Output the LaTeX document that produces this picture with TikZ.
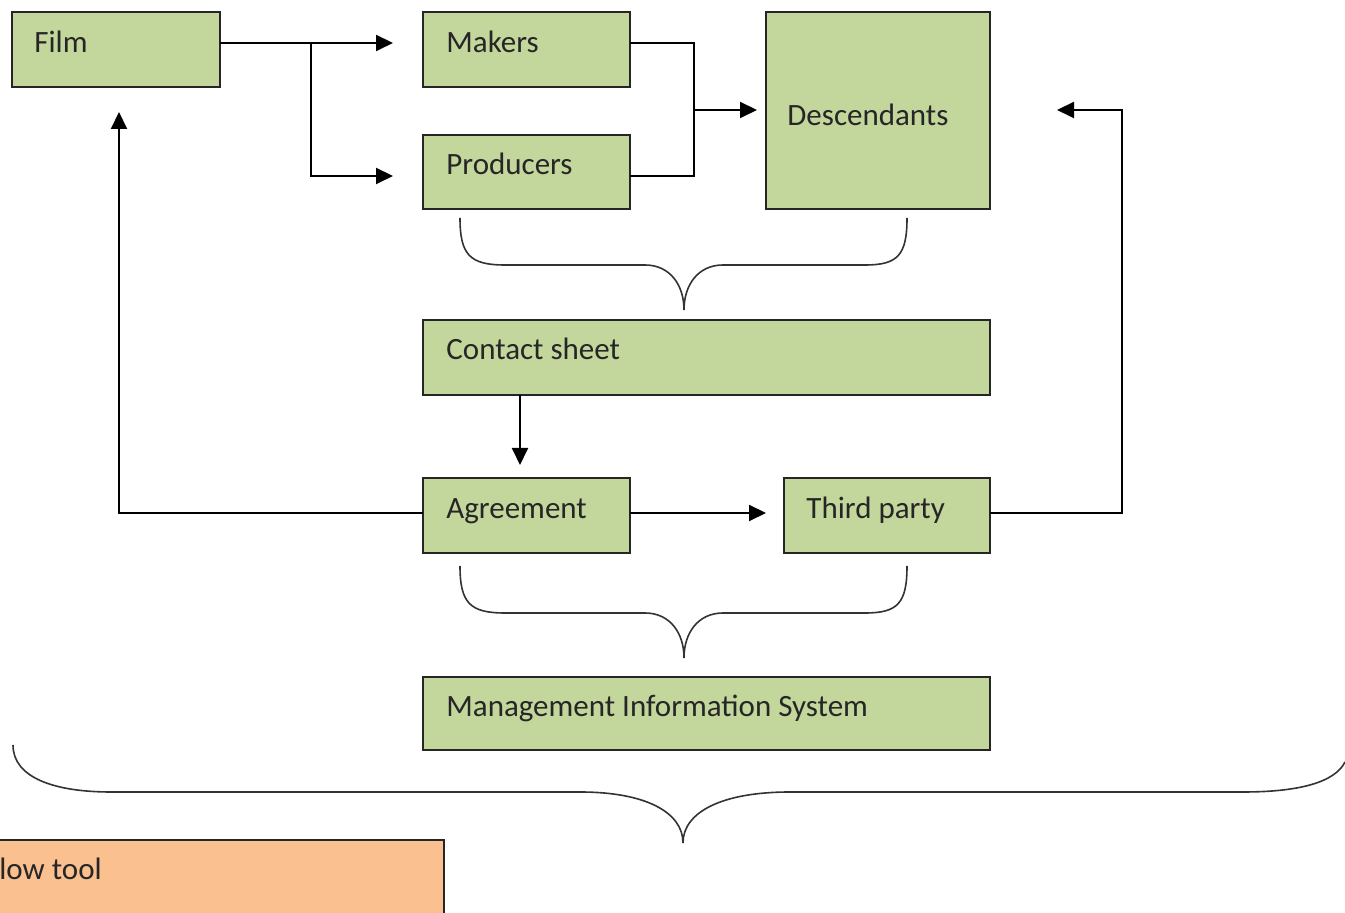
\documentclass[tikz,border=0pt]{standalone}
\usepackage{fontspec}
\setmainfont{Carlito}
\usetikzlibrary{arrows.meta,calc}
\definecolor{boxgreen}{HTML}{C3D69B}
\definecolor{boxorange}{HTML}{FAC090}
\begin{document}
\begin{tikzpicture}[x=0.5pt,y=-0.5pt,
  gbox/.style={draw=black!85,fill=boxgreen,line width=0.8pt,inner sep=0pt,outer sep=0pt},
  obox/.style={draw=black!85,fill=boxorange,line width=0.8pt,inner sep=0pt,outer sep=0pt},
  lbl/.style={anchor=base west,inner sep=0pt,text=black!85,font=\fontsize{15.5}{18}\selectfont},
  ln/.style={draw=black,line width=1pt},
  arr/.style={ln,-{Triangle[length=8.5pt,width=8pt]}},
  brace/.style={draw=black!80,line width=0.8pt}]
\useasboundingbox (0,0) rectangle (1345,913);
% boxes
\node[gbox,minimum width=104pt,minimum height=37.5pt] (film) at (116,49.5) {};
\node[gbox,minimum width=103.5pt,minimum height=37.5pt] (makers) at (526.5,49.5) {};
\node[gbox,minimum width=103.5pt,minimum height=37pt] (producers) at (526.5,172) {};
\node[gbox,minimum width=112pt,minimum height=98.5pt] (desc) at (878,110.5) {};
\node[gbox,minimum width=283.5pt,minimum height=37.5pt] (contact) at (706.5,357.5) {};
\node[gbox,minimum width=103.5pt,minimum height=37.5pt] (agree) at (526.5,515.5) {};
\node[gbox,minimum width=103pt,minimum height=37.5pt] (third) at (887,515.5) {};
\node[gbox,minimum width=283.5pt,minimum height=36.5pt] (mis) at (706.5,713.5) {};
\begin{scope}
\clip (0,0) rectangle (1345,913);
\node[obox,minimum width=230pt,minimum height=45pt] (tool) at (214,885) {};
\node[lbl] (tooltxt) at (-1,880) {low tool};
\end{scope}
% labels
\node[lbl] (filmtxt) at (34,53) {Film};
\node[lbl] (makerstxt) at (446,53) {Makers};
\node[lbl] (producerstxt) at (446,175) {Producers};
\node[lbl] (desctxt) at (787,126) {Descendants};
\node[lbl] (contacttxt) at (446,360) {Contact sheet};
\node[lbl] (agreetxt) at (446,519) {Agreement};
\node[lbl] (thirdtxt) at (806,519) {Third party};
\node[lbl] (mistxt) at (446,717) {Management Information System};
% coordinates
\coordinate (f1) at (393,43);
\coordinate (f2) at (393,176);
\coordinate (fb) at (311,43);
\coordinate (mj) at (694,110);
\coordinate (d1) at (757,110);
\coordinate (tr) at (1122,110);
\coordinate (d2) at (1057,110);
\coordinate (fa) at (119,112);
\coordinate (ca) at (520,465);
\coordinate (tp) at (766,513);
% connectors
\draw[arr] ($(film.east)+(0,-6.5)$) -- (f1);
\draw[arr] (fb) |- (f2);
\draw[ln] ($(makers.east)+(0,-6.5)$) -| (mj) |- ($(producers.east)+(0,4)$);
\draw[arr] (mj) -- (d1);
\draw[arr] ($(third.east)+(0,-2.5)$) -| (tr) -- (d2);
\draw[arr] ($(agree.west)+(0,-2.5)$) -| (fa);
\draw[arr] ($(contact.south west)+(97,0)$) -- (ca);
\draw[arr] ($(agree.east)+(0,-2.5)$) -- (tp);
% braces
\draw[brace] (460,218) .. controls (460,255) and (470,265) .. (505,265) -- (645,265)
  .. controls (670,265) and (684,285) .. (684,310)
  .. controls (684,285) and (698,265) .. (723,265) -- (865,265)
  .. controls (898,265) and (907,255) .. (907,218);
\draw[brace] (460,566) .. controls (460,603) and (470,613) .. (505,613) -- (645,613)
  .. controls (670,613) and (684,633) .. (684,658)
  .. controls (684,633) and (698,613) .. (723,613) -- (865,613)
  .. controls (898,613) and (907,603) .. (907,566);
\draw[brace] (13,745) .. controls (13,778) and (55,792) .. (111,792) -- (580,792)
  .. controls (645,792) and (683,812) .. (683,843)
  .. controls (683,812) and (722,792) .. (790,792) -- (1243,792)
  .. controls (1300,792) and (1335,782) .. (1345,762);
\end{tikzpicture}
\end{document}
